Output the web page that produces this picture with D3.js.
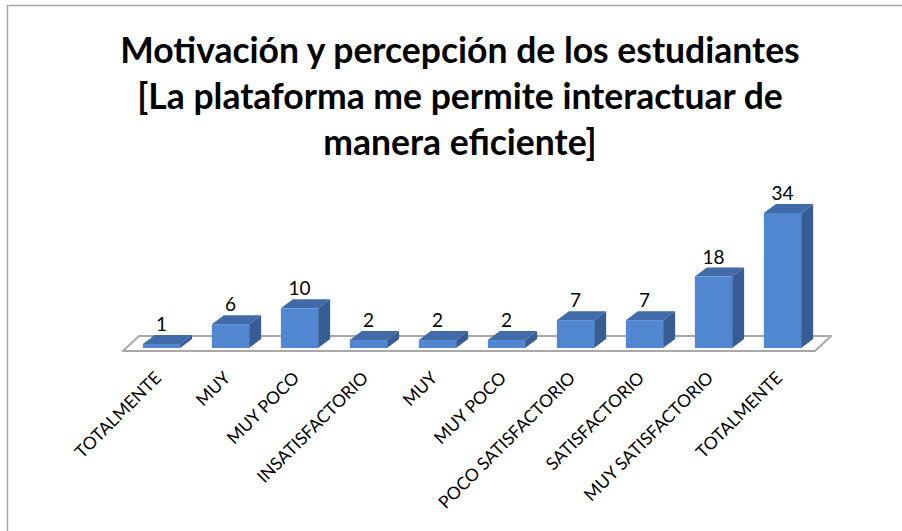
<!DOCTYPE html>
<html>
<head>
<meta charset="utf-8">
<script src="https://cdn.jsdelivr.net/npm/d3@7"></script>
<style>
  html, body { margin: 0; padding: 0; background: #fff; }
  svg { display: block; font-family: Lato, "Open Sans", sans-serif; }
</style>
</head>
<body>
<div id="chart"></div>
<script>
// data
var categories = ["TOTALMENTE", "MUY", "MUY POCO", "INSATISFACTORIO", "MUY", "MUY POCO",
	"POCO SATISFACTORIO", "SATISFACTORIO", "MUY SATISFACTORIO", "TOTALMENTE"];
var values = [1, 6, 10, 2, 2, 2, 7, 7, 18, 34];
var titleLines = ["Motivación y percepción de los estudiantes",
	"[La plataforma me permite interactuar de",
	"manera eficiente]"];

(function() {
	'use strict';

	var width = 902,
		height = 531,
		floorY = 351,
		baseY = 348,
		depthX = 12, depthY = -9,
		floorDX = 16, floorDY = -15;

	var data = categories.map(function(c, i) { return { key: i, cat: c, value: values[i] }; });

	var svg = d3.select("#chart").append("svg")
		.attr("width", width)
		.attr("height", height);

	// chart frame (only top and left edges show)
	svg.append("rect")
		.attr("x", 7.5).attr("y", 5.5)
		.attr("width", 1000).attr("height", 1000)
		.attr("fill", "none")
		.attr("stroke", "#a6a6a6")
		.attr("stroke-width", 1.5);

	var x = d3.scaleBand()
		.domain(data.map(function(d) { return d.key; }))
		.range([127, 817])
		.paddingInner(0.46)
		.paddingOuter(0.23);

	var y = d3.scaleLinear()
		.domain([0, d3.max(values)])
		.range([baseY, 213]);

	// title
	svg.append("text")
		.attr("x", 460)
		.attr("text-anchor", "middle")
		.attr("font-weight", "bold")
		.attr("font-size", 35.5)
		.attr("fill", "#000")
		.selectAll("tspan")
		.data(titleLines)
		.enter().append("tspan")
		.attr("x", 460)
		.attr("y", function(d, i) { return 63 + i * 46; })
		.text(function(d) { return d; });

	// floor
	var x0 = x.range()[0] - 4, x1 = x.range()[1] - 2;
	svg.append("path")
		.attr("d", "M" + x0 + "," + floorY + "L" + x1 + "," + floorY +
			"L" + (x1 + floorDX) + "," + (floorY + floorDY) +
			"L" + (x0 + floorDX) + "," + (floorY + floorDY) + "Z")
		.attr("fill", "#fff")
		.attr("stroke", "#a8a8a8")
		.attr("stroke-width", 2)
		.attr("stroke-linejoin", "round");

	var bw = x.bandwidth();
	var bars = svg.append("g").selectAll("g")
		.data(data)
		.enter().append("g");

	// side face
	bars.append("path")
		.attr("fill", "#385d94")
		.attr("d", function(d) {
			var r = x(d.key) + bw, t = y(d.value);
			return "M" + r + "," + baseY + "L" + r + "," + t +
				"L" + (r + depthX) + "," + (t + depthY) +
				"L" + (r + depthX) + "," + (baseY + depthY) + "Z";
		});

	// top face
	bars.append("path")
		.attr("fill", "#406aa8")
		.attr("d", function(d) {
			var l = x(d.key), t = y(d.value);
			return "M" + l + "," + t + "L" + (l + bw) + "," + t +
				"L" + (l + bw + depthX) + "," + (t + depthY) +
				"L" + (l + depthX) + "," + (t + depthY) + "Z";
		});

	// front face
	bars.append("rect")
		.attr("fill", "#5186d0")
		.attr("x", function(d) { return x(d.key); })
		.attr("y", function(d) { return y(d.value); })
		.attr("width", bw)
		.attr("height", function(d) { return baseY - y(d.value); });

	// value labels
	bars.append("text")
		.attr("x", function(d) { return x(d.key) + bw / 2; })
		.attr("y", function(d) { return y(d.value) - 13; })
		.attr("text-anchor", "middle")
		.attr("font-size", 19)
		.attr("fill", "#000")
		.text(function(d) { return d.value; });

	// category labels, rotated
	svg.append("g").selectAll("text")
		.data(data)
		.enter().append("text")
		.attr("text-anchor", "end")
		.attr("font-size", 17.5)
		.attr("fill", "#000")
		.attr("transform", function(d) {
			return "translate(" + (x(d.key) + bw / 2 + 1) + ",379) rotate(-45)";
		})
		.text(function(d) { return d.cat; });
})();
</script>
</body>
</html>
